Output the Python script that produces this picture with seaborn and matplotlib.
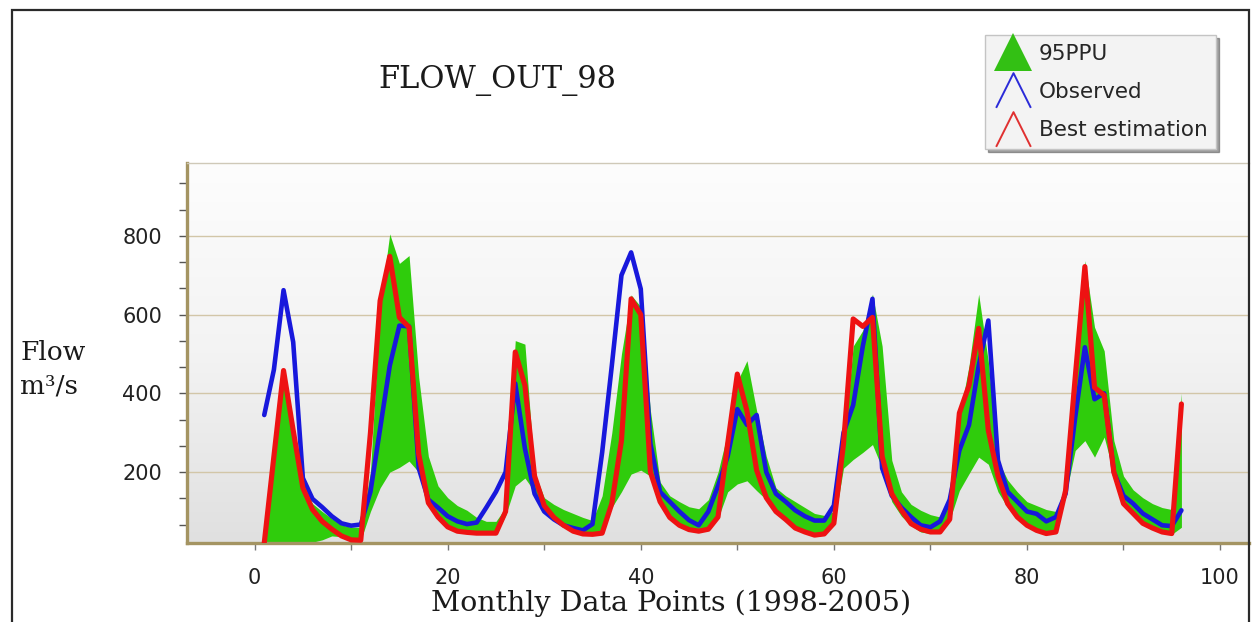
import numpy as np
import matplotlib
matplotlib.use("Agg")
import matplotlib.pyplot as plt
import seaborn as sns
from matplotlib.path import Path
from matplotlib.lines import Line2D
from matplotlib.patches import Rectangle
from matplotlib.colors import LinearSegmentedColormap

# Monthly flow at outlet 98, 1998-2005 (m3/s)
months = list(range(1, 97))

observed = [
    345, 460, 662, 530, 185, 132, 111, 88, 70, 64, 67, 150,
    310, 470, 572, 570, 210, 130, 110, 88, 75, 68, 72, 110,
    150, 200, 425, 260, 145, 100, 80, 65, 58, 52, 68, 250,
    470, 700, 758, 665, 272, 150, 125, 100, 78, 65, 100, 165,
    240, 360, 320, 345, 200, 145, 125, 103, 88, 77, 77, 115,
    300, 370, 520, 640, 210, 140, 110, 86, 65, 60, 75, 130,
    255, 320, 470, 585, 230, 150, 125, 100, 94, 75, 86, 145,
    339, 517, 385, 400, 200, 140, 120, 95, 80, 65, 63, 103,
]

best_estimation = [
    20, 240, 458, 306, 160, 105, 75, 55, 38, 28, 27, 300,
    635, 748, 593, 568, 246, 122, 86, 61, 50, 47, 45, 45,
    45, 100, 505, 420, 190, 115, 85, 65, 50, 43, 42, 45,
    120, 280, 640, 600, 200, 125, 85, 65, 54, 50, 55, 86,
    272, 449, 355, 205, 135, 100, 80, 58, 48, 40, 43, 70,
    272, 589, 570, 593, 240, 145, 103, 69, 55, 48, 48, 80,
    350, 420, 565, 306, 190, 120, 86, 65, 52, 44, 48, 153,
    441, 722, 415, 395, 200, 120, 95, 70, 58, 48, 44, 373,
]

ppu_upper = [
    22, 240, 455, 300, 165, 120, 100, 82, 66, 60, 60, 200,
    620, 805, 730, 750, 441, 240, 165, 135, 115, 103, 85, 75,
    75, 110, 534, 525, 200, 135, 118, 105, 95, 85, 77, 140,
    300, 500, 650, 620, 356, 175, 140, 125, 112, 107, 130, 200,
    300, 430, 483, 356, 240, 160, 140, 125, 110, 95, 90, 100,
    260, 520, 560, 652, 520, 230, 150, 118, 103, 92, 86, 120,
    340, 470, 652, 480, 230, 180, 150, 125, 115, 105, 100, 150,
    450, 737, 568, 508, 280, 190, 155, 135, 120, 110, 105, 400,
]

ppu_lower = [
    20, 20, 20, 20, 20, 22, 28, 38, 36, 28, 27, 100,
    160, 200, 212, 228, 200, 115, 84, 60, 48, 45, 43, 43,
    43, 90, 165, 185, 150, 100, 78, 62, 50, 42, 40, 43,
    110, 150, 195, 205, 190, 120, 82, 62, 52, 48, 52, 82,
    150, 170, 178, 153, 130, 98, 78, 55, 46, 38, 41, 65,
    210, 232, 250, 270, 210, 125, 88, 64, 48, 44, 46, 78,
    153, 196, 238, 220, 150, 110, 82, 62, 50, 42, 46, 140,
    255, 280, 238, 289, 195, 115, 92, 68, 55, 46, 42, 60,
]

y_major = [200, 400, 600, 800]
x_major = [0, 20, 40, 60, 80, 100]

sns.set_theme(style="white")
plt.rcParams["font.family"] = ["DejaVu Sans"]

W, H = 1254, 622
fig = plt.figure(figsize=(W / 100, H / 100), dpi=100)
fig.patch.set_facecolor("white")

ax = fig.add_axes([187 / W, 1 - 543 / H, (1249 - 187) / W, (543 - 163) / H])
xlim = (-7, 103)
ylim = (20, 985)
ax.set_xlim(*xlim)
ax.set_ylim(*ylim)

# soft vertical gradient behind the plot area
bg = LinearSegmentedColormap.from_list("bg", ["#e0e0e0", "#f3f3f3", "#fdfdfd"])
grad = np.linspace(0, 1, 256).reshape(-1, 1)
ax.imshow(grad, extent=[*xlim, *ylim], aspect="auto", cmap=bg,
          origin="lower", zorder=0, interpolation="bicubic")

for v in y_major:
    ax.axhline(v, color="#d2c6a8", lw=1.0, zorder=1)

ax.fill_between(months, ppu_lower, ppu_upper, color="#2fcc0c", lw=0, zorder=2)
sns.lineplot(x=months, y=observed, color="#1818dc", lw=3.3, ax=ax, zorder=3)
sns.lineplot(x=months, y=best_estimation, color="#ee1212", lw=3.7, ax=ax, zorder=4)

ax.set_xlabel("")
ax.set_ylabel("")
ax.set_yticks(y_major)
ax.set_yticks([v * 200 / 3 for v in range(1, 15) if v % 3 != 0], minor=True)
ax.set_xticks(x_major)
ax.set_xticks([10, 30, 50, 70, 90], minor=True)
ax.tick_params(axis="y", which="both", direction="out", length=6, width=1,
               color="#555555", pad=12, labelsize=15, left=True)
ax.tick_params(axis="x", which="both", direction="out", length=5, width=1,
               color="#777777", pad=13, labelsize=15, bottom=True)
for lab in ax.get_xticklabels() + ax.get_yticklabels():
    lab.set_color("#222222")

for side in ("left", "bottom"):
    ax.spines[side].set_color("#a49462")
    ax.spines[side].set_linewidth(2.4)
ax.spines["top"].set_color("#cfc9b8")
ax.spines["top"].set_linewidth(1.0)
ax.spines["right"].set_visible(False)

serif = ["DejaVu Serif"]
fig.text(497 / W, 1 - 80 / H, "FLOW_OUT_98", family=serif, size=22,
         ha="center", va="center", color="#1a1a1a")
fig.text(671 / W, 1 - 603 / H, "Monthly Data Points (1998-2005)", family=serif,
         size=20.5, ha="center", va="center", color="#1a1a1a")
fig.text(20 / W, 1 - 352 / H, "Flow", family=serif, size=19,
         ha="left", va="center", color="#1a1a1a")
fig.text(20 / W, 1 - 386 / H, "m\u00b3/s", family=serif, size=19,
         ha="left", va="center", color="#1a1a1a")

# outer frame
fig.add_artist(Rectangle((12 / W, -0.05), (1249 - 12) / W, 1.05 - 10 / H,
                         transform=fig.transFigure, fill=False,
                         ec="#2a2a2a", lw=1.6, zorder=10))

caret = Path([(-1, -1), (0, 1), (1, -1)], [Path.MOVETO, Path.LINETO, Path.LINETO])
handles = [
    Line2D([], [], ls="none", marker="^", markersize=28, color="#33c014",
           markeredgewidth=0),
    Line2D([], [], ls="none", marker=caret, markersize=25, markerfacecolor="none",
           markeredgecolor="#2a2ad8", markeredgewidth=1.4),
    Line2D([], [], ls="none", marker=caret, markersize=25, markerfacecolor="none",
           markeredgecolor="#e03030", markeredgewidth=1.4),
]
labels = ["95PPU", "Observed", "Best estimation"]
leg = fig.legend(handles, labels, loc="upper left",
                 bbox_to_anchor=(985 / W, 1 - 35 / H), frameon=True,
                 shadow=True, fancybox=False, facecolor="#f3f3f3",
                 edgecolor="#c4c4c4", fontsize=15.5, handlelength=1.8,
                 labelspacing=0.85, borderpad=0.4, handletextpad=0.3,
                 borderaxespad=0)
leg.get_frame().set_linewidth(1.0)

fig.savefig("out.png", dpi=100, facecolor="white")
